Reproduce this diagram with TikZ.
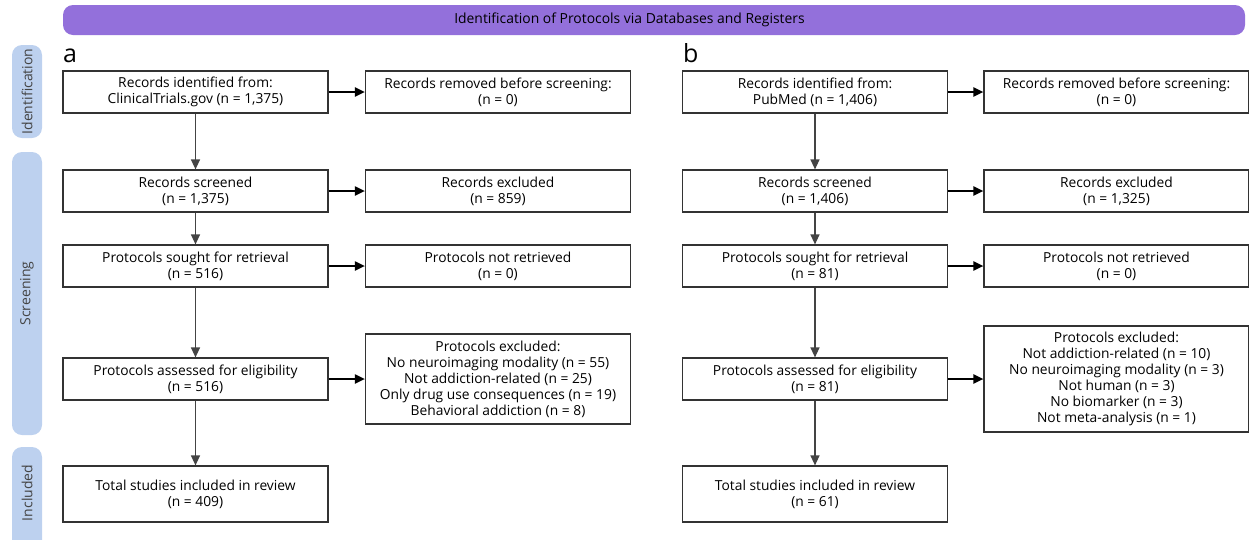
\documentclass[tikz,border=0pt]{standalone}
\usepackage{fontspec}
\setmainfont{Open Sans}
\usetikzlibrary{arrows.meta}
\definecolor{barpurple}{HTML}{9370DB}
\definecolor{phaseblue}{HTML}{BDD1EF}
\definecolor{boxline}{HTML}{333333}
\definecolor{vline}{HTML}{444444}
\definecolor{phasetext}{HTML}{444444}
\begin{document}
\begin{tikzpicture}[x=1pt,y=-1pt,
  box/.style={draw=boxline,line width=1.2pt,fill=white,inner sep=0pt,align=center,
    font=\fontsize{13.8}{16}\selectfont,minimum width=265pt,minimum height=42pt},
  down/.style={draw=vline,line width=1.3pt,-{Triangle[length=10pt,width=9pt]}},
  right/.style={draw=black,line width=2pt,-{Triangle[length=10pt,width=9pt]}},
  phase/.style={fill=phaseblue,rounded corners=10pt},
  phasetxt/.style={rotate=90,text=phasetext,font=\fontsize{14}{16}\selectfont},
  letter/.style={anchor=base west,inner sep=0pt,font=\fontsize{25}{28}\selectfont}]
\useasboundingbox (0,0) rectangle (1249,539);
\begin{scope}
\clip (0,0) rectangle (1249,539);
% title bar
\fill[barpurple,rounded corners=10pt] (63,5) rectangle (1245,35);
\node[font=\fontsize{13.9}{16}\selectfont] (title) at (629.5,19.5) {Identification of Protocols via Databases and Registers};
% phase bars
\fill[phase] (12,45) rectangle (42,138);
\node[phasetxt] (pid) at (27,91.5) {Identification};
\fill[phase] (12,152) rectangle (42,435);
\node[phasetxt] (psc) at (27,293.5) {Screening};
\fill[phase] (12,447) rectangle (42,560);
\node[phasetxt] (pin) at (27,493) {Included};
\end{scope}
% letters
\node[letter] (la) at (63,62) {a};
\node[letter] (lb) at (683,62) {b};
% panel a
\node[box] (a1) at (195.5,92) {Records identified from:\\ClinicalTrials.gov (n = 1,375)};
\node[box] (a1r) at (498,92) {Records removed before screening:\\(n = 0)};
\node[box] (a2) at (195.5,191) {Records screened\\(n = 1,375)};
\node[box] (a2r) at (498,191) {Records excluded\\(n = 859)};
\node[box] (a3) at (195.5,266) {Protocols sought for retrieval\\(n = 516)};
\node[box] (a3r) at (498,266) {Protocols not retrieved\\(n = 0)};
\node[box] (a4) at (195.5,379) {Protocols assessed for eligibility\\(n = 516)};
\node[box,minimum height=90pt] (a4r) at (498,379) {Protocols excluded:\\No neuroimaging modality (n = 55)\\Not addiction-related (n = 25)\\Only drug use consequences (n = 19)\\Behavioral addiction (n = 8)};
\node[box,minimum height=56pt] (a5) at (195.5,494) {Total studies included in review\\(n = 409)};
% panel b
\node[box] (b1) at (815,92) {Records identified from:\\PubMed (n = 1,406)};
\node[box] (b1r) at (1116.5,92) {Records removed before screening:\\(n = 0)};
\node[box] (b2) at (815,191) {Records screened\\(n = 1,406)};
\node[box] (b2r) at (1116.5,191) {Records excluded\\(n = 1,325)};
\node[box] (b3) at (815,266) {Protocols sought for retrieval\\(n = 81)};
\node[box] (b3r) at (1116.5,266) {Protocols not retrieved\\(n = 0)};
\node[box] (b4) at (815,379) {Protocols assessed for eligibility\\(n = 81)};
\node[box,minimum height=106pt] (b4r) at (1116.5,379) {Protocols excluded:\\Not addiction-related (n = 10)\\No neuroimaging modality (n = 3)\\Not human (n = 3)\\No biomarker (n = 3)\\Not meta-analysis (n = 1)};
\node[box,minimum height=56pt] (b5) at (815,494) {Total studies included in review\\(n = 61)};
% connectors
\foreach \p in {a,b}{
  \draw[down] (\p1) -- (\p2);
  \draw[down] (\p2) -- (\p3);
  \draw[down] (\p3) -- (\p4);
  \draw[down] (\p4) -- (\p5);
  \draw[right] (\p1) -- (\p1r);
  \draw[right] (\p2) -- (\p2r);
  \draw[right] (\p3) -- (\p3r);
  \draw[right] (\p4) -- (\p4r);
}
\end{tikzpicture}
\end{document}
